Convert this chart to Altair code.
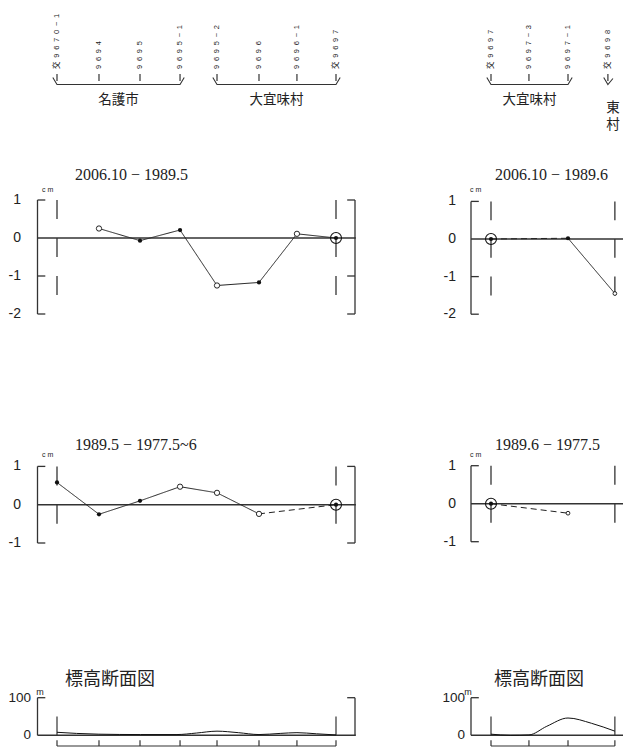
import altair as alt
import pandas as pd

# ---------------- values ----------------
left_stations = ["交9670-1", "9694", "9695", "9695-1", "9695-2", "9696", "9696-1", "交9697"]
left_km = [0.0, 1.505, 2.975, 4.41, 5.735, 7.24, 8.60, 10.0]
right_stations = ["交9697", "9697-3", "9697-1", "交9698"]
right_km = [0.0, 1.36, 2.76, 4.44]
right_header_km = [0.0, 1.36, 2.76, 4.19]

left_groups = ["名護市", "大宜味村"]
left_group_from = [0, 4]
left_group_to = [3, 7]
right_groups = ["大宜味村"]
right_group_from = [0]
right_group_to = [2]
right_edge_group = "東\n村"

titles_row1 = ["2006.10 − 1989.5", "2006.10 − 1989.6"]
titles_row2 = ["1989.5 − 1977.5~6", "1989.6 − 1977.5"]
elev_title = "標高断面図"

row1_ticks = [1, 0, -1, -2]
row1_tick_labels = ["1", "0", "-1", "-2"]
row2_ticks = [1, 0, -1]
row2_tick_labels = ["1", "0", "-1"]
elev_ticks = [100, 0]
elev_tick_labels = ["100", "0"]

# row 1 (2006.10 - 1989.x)
r1L_station = [1, 2, 3, 4, 5, 6, 7]
r1L_cm = [0.25, -0.07, 0.21, -1.25, -1.17, 0.11, 0.0]
r1L_kind = ["open", "fill", "fill", "open", "fill", "open", "ref"]
r1L_seg = ["solid", "solid", "solid", "solid", "solid", "solid"]
r1R_station = [0, 2, 3]
r1R_cm = [0.0, 0.02, -1.45]
r1R_kind = ["ref", "fill", "small"]
r1R_seg = ["dash", "solid"]

# row 2 (1989.x - 1977.x)
r2L_station = [0, 1, 2, 3, 4, 5, 7]
r2L_cm = [0.58, -0.25, 0.10, 0.47, 0.31, -0.24, 0.0]
r2L_kind = ["fill", "fill", "fill", "open", "open", "open", "ref"]
r2L_seg = ["solid", "solid", "solid", "solid", "solid", "dash"]
r2R_station = [0, 2]
r2R_cm = [0.0, -0.25]
r2R_kind = ["ref", "small"]
r2R_seg = ["dash"]

# elevation profile (m)
elevL_km = [0.0, 0.7, 1.5, 3.0, 4.3, 5.0, 5.735, 6.5, 7.24, 8.0, 8.6, 9.3, 10.0]
elevL_m = [8, 5, 3, 2, 2, 6, 11, 7, 2, 5, 7, 4, 1]
elevR_km = [0.0, 0.7, 1.36, 2.0, 2.76, 3.6, 4.44]
elevR_m = [3, 0, 1, 24, 46, 32, 11]

# ---------------- layout ----------------
PX = 27.9  # px per km unit
COLS = {
    "L": dict(w=412, x0=8, origin=57, frame_l=37.5, frame_r=355, km=left_km, hkm=left_km, ref=[0, 7]),
    "R": dict(w=204, x0=420, origin=491, frame_l=471, frame_r=None, km=right_km, hkm=right_header_km, ref=[0, 3]),
}
ROWS = {
    "H": dict(top=8, h=122),
    "P1": dict(top=130, h=270, zero={"L": 236.0, "R": 237.0}, ppu={"L": 38.0, "R": 37.6}),
    "P2": dict(top=400, h=220, zero={"L": 502.7, "R": 501.7}, ppu={"L": 38.3, "R": 38.0}),
    "E": dict(top=620, h=125, zero={"L": 733.3, "R": 733.3}, ppu={"L": 0.376, "R": 0.376}),
}
STUB = 0.28
INK = "#222"
CJK = "Noto Sans CJK JP"
SERIF = "Liberation Serif, DejaVu Serif, serif"
SANS = "Liberation Sans, Arial, sans-serif"


def unit(col, px):
    return (px - COLS[col]["origin"]) / PX


def xscale(col):
    c = COLS[col]
    return alt.Scale(domain=[unit(col, c["x0"]), unit(col, c["x0"] + c["w"])], nice=False, zero=False)


def yscale(row, col):
    r = ROWS[row]
    z, p = r["zero"][col], r["ppu"][col]
    return alt.Scale(domain=[-(r["top"] + r["h"] - z) / p, (z - r["top"]) / p], nice=False, zero=False)


def rule_layer(df, xs, ys, color=INK, width=1.2, dash=None):
    kw = dict(color=color, strokeWidth=width)
    if dash:
        kw["strokeDash"] = dash
    return alt.Chart(df).mark_rule(**kw).encode(
        x=alt.X("x:Q", scale=xs, axis=None), x2="x2:Q",
        y=alt.Y("y:Q", scale=ys, axis=None), y2="y2:Q")


def text_layer(txt, px, py, **kw):
    return alt.Chart(pd.DataFrame({"t": [txt]})).mark_text(**kw).encode(
        x=alt.value(px), y=alt.value(py), text="t:N")


def frame_df(col, ticks):
    c = COLS[col]
    fl = unit(col, c["frame_l"])
    rows = [(fl, fl, max(ticks), min(ticks))]
    for t in ticks:
        if t != 0:
            rows.append((fl, fl + STUB, t, t))
    if c["frame_r"] is not None:
        fr = unit(col, c["frame_r"])
        rows.append((fr, fr, max(ticks), min(ticks)))
        for t in ticks:
            if t != 0:
                rows.append((fr - STUB, fr, t, t))
    return pd.DataFrame(rows, columns=["x", "x2", "y", "y2"])


def zero_df(col):
    c = COLS[col]
    fl = unit(col, c["frame_l"])
    fr = unit(col, c["frame_r"]) + 0.03 if c["frame_r"] is not None else unit(col, c["x0"] + c["w"] - 1)
    return pd.DataFrame({"x": [fl], "x2": [fr], "y": [0.0], "y2": [0.0]})


def cm_cell(col, row, st, vals, kinds, segs, ticks, tick_labels, title, ref_spans):
    c = COLS[col]
    r = ROWS[row]
    km = c["km"]
    xs, ys = xscale(col), yscale(row, col)
    X = alt.X("x:Q", scale=xs, axis=None)
    Y = alt.Y("y:Q", scale=ys, axis=None)
    layers = [rule_layer(frame_df(col, ticks), xs, ys, color="#333", width=1.3),
              rule_layer(zero_df(col), xs, ys, color="#333", width=1.4)]
    vr = [(km[i], km[i], a, b) for i in c["ref"] for (a, b) in ref_spans]
    layers.append(rule_layer(pd.DataFrame(vr, columns=["x", "x2", "y", "y2"]), xs, ys, color="#333", width=1.3))
    sd = pd.DataFrame({
        "x": [km[st[i]] for i in range(len(st) - 1)],
        "x2": [km[st[i + 1]] for i in range(len(st) - 1)],
        "y": vals[:-1], "y2": vals[1:], "style": segs})
    layers.append(alt.Chart(sd).mark_rule(color=INK, strokeWidth=1.0).encode(
        x=X, x2="x2:Q", y=Y, y2="y2:Q",
        strokeDash=alt.StrokeDash("style:N", scale=alt.Scale(domain=["solid", "dash"], range=[[1, 0], [6, 4]]), legend=None)))
    pts = pd.DataFrame({"x": [km[s] for s in st], "y": vals, "kind": kinds})
    f = pts[pts.kind == "fill"]
    o = pts[pts.kind == "open"]
    s = pts[pts.kind == "small"]
    rf = pts[pts.kind == "ref"]
    if len(f):
        layers.append(alt.Chart(f).mark_point(filled=True, color="#111", size=18, opacity=1).encode(x=X, y=Y))
    if len(o):
        layers.append(alt.Chart(o).mark_point(filled=True, fill="white", stroke="#111", strokeWidth=0.9, size=28, opacity=1).encode(x=X, y=Y))
    if len(s):
        layers.append(alt.Chart(s).mark_point(filled=True, fill="white", stroke="#111", strokeWidth=0.9, size=14, opacity=1).encode(x=X, y=Y))
    if len(rf):
        layers.append(alt.Chart(rf).mark_point(filled=False, stroke="#111", strokeWidth=1.1, size=120, opacity=1).encode(x=X, y=Y))
        layers.append(alt.Chart(rf).mark_point(filled=True, color="#111", size=18, opacity=1).encode(x=X, y=Y))
    tl = pd.DataFrame({"y": ticks, "lab": tick_labels})
    lx = 13 if col == "L" else 36
    layers.append(alt.Chart(tl).mark_text(align="right", baseline="middle", fontSize=14, font=SANS, color=INK).encode(
        x=alt.value(lx), y=Y, text="lab:N"))
    tx = 67 if col == "L" else 75
    layers.append(text_layer(title, tx, 43, align="left", baseline="middle", fontSize=16, font=SERIF, color=INK))
    ux = 34 if col == "L" else 50
    uy = 58 if row == "P1" else 53
    layers.append(text_layer("c m", ux, uy, align="left", baseline="middle", fontSize=7, font=SANS, color=INK))
    return alt.layer(*layers).properties(width=c["w"], height=r["h"])


def elev_cell(col, ekm, em):
    c = COLS[col]
    r = ROWS["E"]
    km = c["km"]
    xs, ys = xscale(col), yscale("E", col)
    X = alt.X("x:Q", scale=xs, axis=None)
    Y = alt.Y("y:Q", scale=ys, axis=None)
    layers = [rule_layer(frame_df(col, elev_ticks), xs, ys, color="#333", width=1.3),
              rule_layer(zero_df(col), xs, ys, color="#333", width=1.4)]
    vr = [(km[i], km[i], 50, 0) for i in c["ref"]]
    layers.append(rule_layer(pd.DataFrame(vr, columns=["x", "x2", "y", "y2"]), xs, ys, color="#333", width=1.2))
    prof = pd.DataFrame({"x": ekm, "y": em})
    layers.append(alt.Chart(prof).mark_line(interpolate="monotone", color="#111", strokeWidth=1.0).encode(x=X, y=Y))
    base = [(km[0], km[-1], -28.5, -28.5)] + [(k, k, -13, -28.5) for k in km]
    layers.append(rule_layer(pd.DataFrame(base, columns=["x", "x2", "y", "y2"]), xs, ys, color="#333", width=1.2))
    tl = pd.DataFrame({"y": elev_ticks, "lab": elev_tick_labels})
    lx = 23 if col == "L" else 45
    layers.append(alt.Chart(tl).mark_text(align="right", baseline="middle", fontSize=13.5, font=SANS, color=INK).encode(
        x=alt.value(lx), y=Y, text="lab:N"))
    mx = 32 if col == "L" else 48
    layers.append(text_layer("m", mx, 70, align="center", baseline="middle", fontSize=9, font=SANS, color=INK))
    tx = 102 if col == "L" else 119
    layers.append(text_layer(elev_title, tx, 58, align="center", baseline="middle", fontSize=18, font=CJK, color=INK))
    return alt.layer(*layers).properties(width=c["w"], height=r["h"])


def spaced(s):
    return "\u2002".join(s.replace("-", "−"))


def header_cell(col, names, groups, gfrom, gto, edge_label=None):
    c = COLS[col]
    r = ROWS["H"]
    hkm = c["hkm"]
    xs = xscale(col)
    hy = alt.Scale(domain=[0, r["h"]], reverse=True, nice=False, zero=False)
    X = alt.X("x:Q", scale=xs, axis=None)
    Y = alt.Y("y:Q", scale=hy, axis=None)
    lab = pd.DataFrame({"x": hkm, "t": [spaced(n) for n in names]})
    layers = [alt.Chart(lab).mark_text(angle=270, align="left", baseline="middle", fontSize=7.5,
                                       font="Liberation Sans, Noto Sans CJK JP", color=INK).encode(
        x=X, y=alt.value(61), text="t:N")]
    tk = pd.DataFrame({"x": hkm, "x2": hkm, "y": [66] * len(hkm), "y2": [73] * len(hkm)})
    layers.append(rule_layer(tk, xs, hy, color="#333", width=1.2))
    brace = []
    for g, (a, b) in enumerate(zip(gfrom, gto)):
        xa, xb = hkm[a], hkm[b]
        for o, (xx, yy) in enumerate([(xa - 0.15, 69.5), (xa, 76.5), (xb, 76.5), (xb + 0.15, 69.5)]):
            brace.append((g, o, xx, yy))
    if edge_label is not None:
        xe = hkm[-1]
        for o, (xx, yy) in enumerate([(xe - 0.15, 69.5), (xe, 76.5), (xe + 0.18, 70.5)]):
            brace.append((99, o, xx, yy))
    bd = pd.DataFrame(brace, columns=["g", "o", "x", "y"])
    layers.append(alt.Chart(bd).mark_line(color="#333", strokeWidth=1.1).encode(
        x=X, y=Y, detail="g:N", order="o:Q"))
    gl = pd.DataFrame({"x": [(hkm[a] + hkm[b]) / 2 for a, b in zip(gfrom, gto)], "t": groups})
    layers.append(alt.Chart(gl).mark_text(align="center", baseline="middle", fontSize=13.5, font=CJK, color=INK).encode(
        x=X, y=alt.value(91.5), text="t:N"))
    if edge_label is not None:
        el = pd.DataFrame({"x": [hkm[-1] + 0.18], "t": [edge_label]})
        layers.append(alt.Chart(el).mark_text(align="center", baseline="middle", fontSize=13.5, font=CJK, color=INK,
                                              lineBreak="\n", lineHeight=17).encode(
            x=X, y=alt.value(100), text="t:N"))
    return alt.layer(*layers).properties(width=c["w"], height=r["h"])


ref_spans_1 = [(1, 0.5), (0, -0.5), (-1, -1.5)]
ref_spans_2 = [(1, 0.5), (0, -0.5)]

row_h = alt.hconcat(
    header_cell("L", left_stations, left_groups, left_group_from, left_group_to),
    header_cell("R", right_stations, right_groups, right_group_from, right_group_to, right_edge_group),
    spacing=0, bounds="flush")
row_1 = alt.hconcat(
    cm_cell("L", "P1", r1L_station, r1L_cm, r1L_kind, r1L_seg, row1_ticks, row1_tick_labels, titles_row1[0], ref_spans_1),
    cm_cell("R", "P1", r1R_station, r1R_cm, r1R_kind, r1R_seg, row1_ticks, row1_tick_labels, titles_row1[1], ref_spans_1),
    spacing=0, bounds="flush")
row_2 = alt.hconcat(
    cm_cell("L", "P2", r2L_station, r2L_cm, r2L_kind, r2L_seg, row2_ticks, row2_tick_labels, titles_row2[0], ref_spans_2),
    cm_cell("R", "P2", r2R_station, r2R_cm, r2R_kind, r2R_seg, row2_ticks, row2_tick_labels, titles_row2[1], ref_spans_2),
    spacing=0, bounds="flush")
row_3 = alt.hconcat(
    elev_cell("L", elevL_km, elevL_m),
    elev_cell("R", elevR_km, elevR_m),
    spacing=0, bounds="flush")

chart = alt.vconcat(row_h, row_1, row_2, row_3, spacing=0).properties(
    padding=0, background="white"
).configure_view(stroke=None)

chart.save("out.html", embed_options={"renderer": "svg", "actions": False})
